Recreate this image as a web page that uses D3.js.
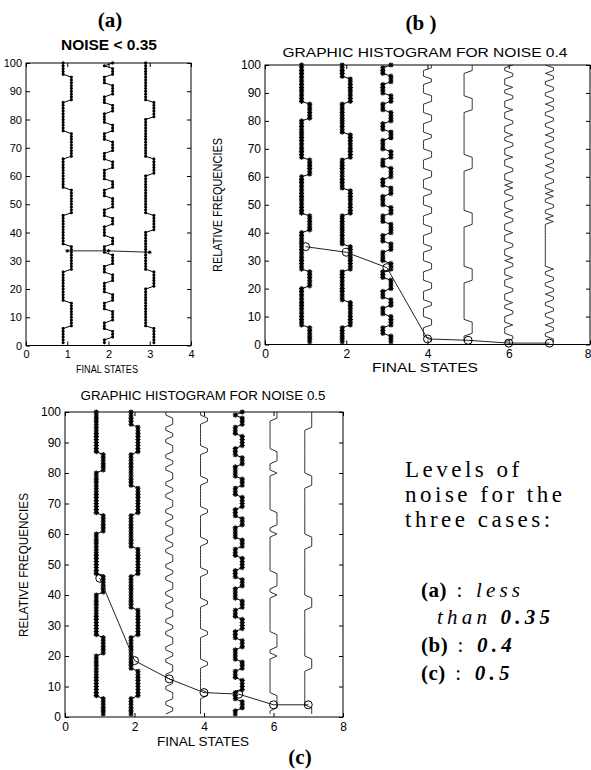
<!DOCTYPE html>
<html>
<head>
<meta charset="utf-8">
<script src="https://cdn.jsdelivr.net/npm/d3@7"></script>
<style>
  body { margin: 0; background: #fff; }
  svg { font-family: "Liberation Sans", Arial, sans-serif; }
  svg text { fill: #000; }
</style>
</head>
<body>
<div id="chart"></div>
<script>
// sample index of every trace (vertical axis)
const samples = d3.range(1, 101);

// intervals (in samples) where a trace sits on the right side (state + 0.1)
const slowA = [[7, 15], [27, 35], [47, 55], [67, 75], [87, 95]];
const slowB = [[1, 6], [21, 26], [41, 46], [61, 66], [81, 86]];
const fastC = [[3, 5], [9, 12], [16, 18], [23, 25], [29, 32], [36, 38], [43, 45], [49, 52], [56, 58],
               [63, 65], [69, 72], [76, 78], [83, 85], [89, 92], [96, 98], [100, 100]];
const fastD = [[1, 3], [7, 10], [14, 16], [20, 23], [27, 29], [34, 36], [40, 43], [47, 49], [54, 56],
               [60, 63], [67, 69], [74, 76], [80, 83], [87, 89], [94, 96], [100, 100]];
const b4Flips = [[1, 2], [7, 9], [14, 15], [20, 22], [27, 29], [34, 35], [40, 42], [47, 49], [54, 55],
                 [60, 62], [67, 69], [74, 75], [80, 82], [87, 89], [94, 95], [99, 100]];
const b5Flips = [[4, 8], [23, 27], [43, 47], [63, 67], [84, 88], [98, 100]];
const b6Flips = [[2, 3], [7, 7], [11, 12], [15, 15], [19, 20], [24, 24], [28, 29], [31, 31],
                 [35, 36], [40, 40], [44, 45], [48, 48], [52, 53], [56, 56], [58, 58], [62, 63], [67, 67],
                 [71, 72], [75, 75], [79, 80], [84, 84], [88, 89], [92, 92], [96, 97], [100, 100]];
const b7Flips = [[1, 2], [5, 6], [8, 9], [12, 13], [16, 17], [19, 20], [23, 24], [27, 27], [44, 44],
                 [46, 46], [49, 50], [53, 53], [55, 55], [58, 59], [62, 63], [65, 66], [69, 70], [73, 74],
                 [76, 77], [80, 81], [84, 85], [87, 88], [91, 92], [95, 96], [98, 99]];
const c3Flips = [[2, 3], [6, 8], [11, 12], [15, 17], [20, 21], [24, 26], [29, 30], [33, 35], [38, 39],
                 [42, 44], [47, 48], [51, 53], [56, 57], [60, 62], [65, 66], [69, 71], [74, 75], [78, 80],
                 [83, 84], [87, 89], [92, 93], [96, 98]];
const c4Flips = [[7, 8], [17, 18], [27, 28], [37, 38], [47, 48], [57, 58], [67, 68], [77, 78], [87, 88], [97, 98]];
const c6Flips = [[3, 7], [20, 20], [23, 27], [40, 40], [43, 47], [60, 60],
                 [63, 67], [80, 80], [84, 87], [98, 100]];
const c7Flips = [[1, 3], [16, 19], [36, 39], [56, 59], [76, 79], [95, 100]];

// final states and their relative frequencies (%)
const statesA = [1, 2, 3];
const freqA = [33.5, 33.5, 33];
const statesBC = [1, 2, 3, 4, 5, 6, 7];
const freqB = [35, 33, 27.5, 2, 1.5, 0.5, 0.5];
const freqC = [45.5, 18.5, 12.5, 8, 7.5, 4, 4];

// which pattern each state column shows, and whether it is drawn with markers
const tracesA = [
  { state: 1, flips: slowA, dots: true },
  { state: 2, flips: fastC, dots: true },
  { state: 3, flips: slowB, dots: true }
];
const tracesB = [
  { state: 1, flips: slowB, dots: true },
  { state: 2, flips: slowA, dots: true },
  { state: 3, flips: fastD, dots: true },
  { state: 4, flips: b4Flips, dots: false },
  { state: 5, flips: b5Flips, dots: false },
  { state: 6, flips: b6Flips, dots: false },
  { state: 7, flips: b7Flips, dots: false }
];
const tracesC = [
  { state: 1, flips: slowB, dots: true },
  { state: 2, flips: slowA, dots: true },
  { state: 3, flips: c3Flips, dots: false },
  { state: 4, flips: c4Flips, dots: false },
  { state: 5, flips: fastC, dots: true },
  { state: 6, flips: c6Flips, dots: false },
  { state: 7, flips: c7Flips, dots: false }
];

const yTicks = d3.range(0, 101, 10);

const serif = "'Liberation Serif', 'Times New Roman', serif";

const svg = d3.select("#chart")
  .append("svg")
  .attr("width", 591)
  .attr("height", 770);

function tracePoints(state, flips) {
  return samples.map(t => {
    const hi = flips.some(([a, b]) => t >= a && t <= b);
    return [state + (hi ? 0.1 : -0.1), t];
  });
}

function starPath(r) {
  const k = r * 0.7;
  return `M${-r},0H${r}M0,${-r}V${r}M${-k},${-k}L${k},${k}M${-k},${k}L${k},${-k}`;
}

function drawPanel(cfg) {
  const g = svg.append("g");
  const x = d3.scaleLinear().domain([0, cfg.xMax]).range([cfg.left, cfg.right]);
  const y = d3.scaleLinear().domain([0, 100]).range([cfg.bottom, cfg.top]);

  // axes with inward ticks, matlab style
  const xb = g.append("g")
    .attr("transform", `translate(0,${cfg.bottom})`)
    .call(d3.axisBottom(x).ticks(cfg.xMax / cfg.xStep).tickSizeInner(-4).tickSizeOuter(0).tickPadding(5));
  const xt = g.append("g")
    .attr("transform", `translate(0,${cfg.top})`)
    .call(d3.axisTop(x).ticks(cfg.xMax / cfg.xStep).tickSizeInner(-4).tickSizeOuter(0).tickFormat(""));
  const yl = g.append("g")
    .attr("transform", `translate(${cfg.left},0)`)
    .call(d3.axisLeft(y).tickValues(yTicks).tickSizeInner(-4).tickSizeOuter(0).tickPadding(4));
  const yr = g.append("g")
    .attr("transform", `translate(${cfg.right},0)`)
    .call(d3.axisRight(y).tickValues(yTicks).tickSizeInner(-4).tickSizeOuter(0).tickFormat(""));

  [xb, xt, yl, yr].forEach(a => {
    a.select(".domain").remove();
    a.selectAll("line").attr("stroke", "#000");
    a.selectAll("text")
      .style("font-family", cfg.tickFont)
      .style("font-size", cfg.tickSize + "px");
  });

  // last x label sits on the page edge in panel (b): keep it inside
  if (cfg.right > 585) {
    xb.selectAll(".tick text")
      .filter(d => d === cfg.xMax)
      .attr("text-anchor", "end")
      .attr("dx", 1);
  }

  g.append("rect")
    .attr("x", cfg.left)
    .attr("y", cfg.top)
    .attr("width", cfg.right - cfg.left)
    .attr("height", cfg.bottom - cfg.top)
    .attr("fill", "none")
    .attr("stroke", "#000")
    .attr("stroke-width", 1);

  const line = d3.line().x(d => x(d[0])).y(d => y(d[1]));

  cfg.traces.forEach(tr => {
    const pts = tracePoints(tr.state, tr.flips);
    g.append("path")
      .attr("d", line(pts))
      .attr("fill", "none")
      .attr("stroke", tr.dots ? "#000" : "#333")
      .attr("stroke-width", 1);
    if (tr.dots) {
      g.selectAll(null)
        .data(pts)
        .enter()
        .append("path")
        .attr("transform", d => `translate(${x(d[0])},${y(d[1])})`)
        .attr("d", starPath(cfg.markR))
        .attr("stroke", "#000")
        .attr("stroke-width", 1.1);
    }
  });

  // frequency polyline
  const freqPts = cfg.states.map((s, i) => [s, cfg.freq[i]]);
  g.append("path")
    .attr("d", line(freqPts))
    .attr("fill", "none")
    .attr("stroke", "#222")
    .attr("stroke-width", 1);

  if (cfg.circles) {
    g.selectAll(null)
      .data(freqPts)
      .enter()
      .append("circle")
      .attr("cx", d => x(d[0]))
      .attr("cy", d => y(d[1]))
      .attr("r", 4)
      .attr("fill", "none")
      .attr("stroke", "#000")
      .attr("stroke-width", 1);
  } else {
    g.selectAll(null)
      .data(freqPts)
      .enter()
      .append("path")
      .attr("transform", d => `translate(${x(d[0])},${y(d[1])})`)
      .attr("d", starPath(1.8))
      .attr("stroke", "#000");
  }

  // titles and labels
  g.append("text")
    .attr("x", cfg.titleX)
    .attr("y", cfg.titleY)
    .attr("text-anchor", "middle")
    .attr("textLength", cfg.titleLen)
    .attr("lengthAdjust", "spacingAndGlyphs")
    .style("font-size", cfg.titleSize + "px")
    .style("font-weight", cfg.titleBold ? "bold" : "normal")
    .text(cfg.title);

  g.append("text")
    .attr("x", cfg.xLabelX)
    .attr("y", cfg.xLabelY)
    .attr("text-anchor", "middle")
    .attr("textLength", cfg.xLabelLen)
    .attr("lengthAdjust", "spacingAndGlyphs")
    .style("font-size", cfg.labelSize + "px")
    .text("FINAL STATES");

  if (cfg.yLabelX) {
    g.append("text")
      .attr("transform", `translate(${cfg.yLabelX},${cfg.yLabelY}) rotate(-90)`)
      .attr("text-anchor", "middle")
      .attr("textLength", cfg.yLabelLen)
      .attr("lengthAdjust", "spacingAndGlyphs")
      .style("font-size", cfg.labelSize + "px")
      .text("RELATIVE FREQUENCIES");
  }

  g.append("text")
    .attr("x", cfg.tagX)
    .attr("y", cfg.tagY)
    .attr("text-anchor", "middle")
    .style("font-family", serif)
    .style("font-weight", "bold")
    .style("font-size", "21px")
    .text(cfg.tag);
}

drawPanel({
  left: 26, right: 191, top: 63, bottom: 345.5, xMax: 4, xStep: 1,
  traces: tracesA, states: statesA, freq: freqA, circles: false, markR: 1.5,
  tickFont: "'Liberation Sans Narrow', 'Liberation Sans', sans-serif", tickSize: 11,
  title: "NOISE < 0.35", titleX: 109, titleY: 50, titleSize: 14, titleBold: true, titleLen: 96,
  xLabelX: 107, xLabelY: 373, labelSize: 10, xLabelLen: 62,
  tag: "(a)", tagX: 110, tagY: 27
});

drawPanel({
  left: 265, right: 590, top: 65, bottom: 344.5, xMax: 8, xStep: 2,
  traces: tracesB, states: statesBC, freq: freqB, circles: true, markR: 2.6,
  tickFont: "'Liberation Sans', sans-serif", tickSize: 12,
  title: "GRAPHIC HISTOGRAM FOR NOISE 0.4", titleX: 425, titleY: 57, titleSize: 12, titleBold: false, titleLen: 285,
  xLabelX: 425, xLabelY: 372, labelSize: 12, xLabelLen: 106,
  yLabelX: 222, yLabelY: 205, yLabelLen: 134,
  tag: "(b )", tagX: 421, tagY: 30
});

drawPanel({
  left: 65, right: 343, top: 412, bottom: 717, xMax: 8, xStep: 2,
  traces: tracesC, states: statesBC, freq: freqC, circles: true, markR: 2.6,
  tickFont: "'Liberation Sans', sans-serif", tickSize: 12,
  title: "GRAPHIC HISTOGRAM FOR NOISE 0.5", titleX: 203, titleY: 400, titleSize: 12, titleBold: false, titleLen: 245,
  xLabelX: 203, xLabelY: 746, labelSize: 12, xLabelLen: 92,
  yLabelX: 28, yLabelY: 565, yLabelLen: 144,
  tag: "(c)", tagX: 300, tagY: 764
});

// side note
const note = svg.append("g");

function noteLine(xPos, yPos, size, spacing) {
  return note.append("text")
    .attr("x", xPos)
    .attr("y", yPos)
    .style("font-family", serif)
    .style("font-size", size + "px")
    .style("letter-spacing", spacing + "px");
}

noteLine(405, 477, 23, 3.5).text("Levels of");
noteLine(405, 502, 23, 3.5).text("noise for the");
noteLine(405, 527, 23, 3.5).text("three cases:");

function tag(sel, txt) {
  sel.append("tspan").style("font-weight", "bold").style("letter-spacing", "0.5px").text(txt);
}

const l1 = noteLine(421, 597, 21, 4.2);
tag(l1, "(a)");
l1.append("tspan").text(" : ");
l1.append("tspan").style("font-style", "italic").text("less");

const l2 = noteLine(437, 624, 21, 4.2);
l2.append("tspan").style("font-style", "italic").text("than ");
l2.append("tspan").style("font-style", "italic").style("font-weight", "bold").text("0.35");

const l3 = noteLine(421, 652, 21, 4.2);
tag(l3, "(b)");
l3.append("tspan").text(" : ");
l3.append("tspan").style("font-style", "italic").style("font-weight", "bold").text("0.4");

const l4 = noteLine(421, 680, 21, 4.2);
tag(l4, "(c)");
l4.append("tspan").text(" : ");
l4.append("tspan").style("font-style", "italic").style("font-weight", "bold").text("0.5");
</script>
</body>
</html>
